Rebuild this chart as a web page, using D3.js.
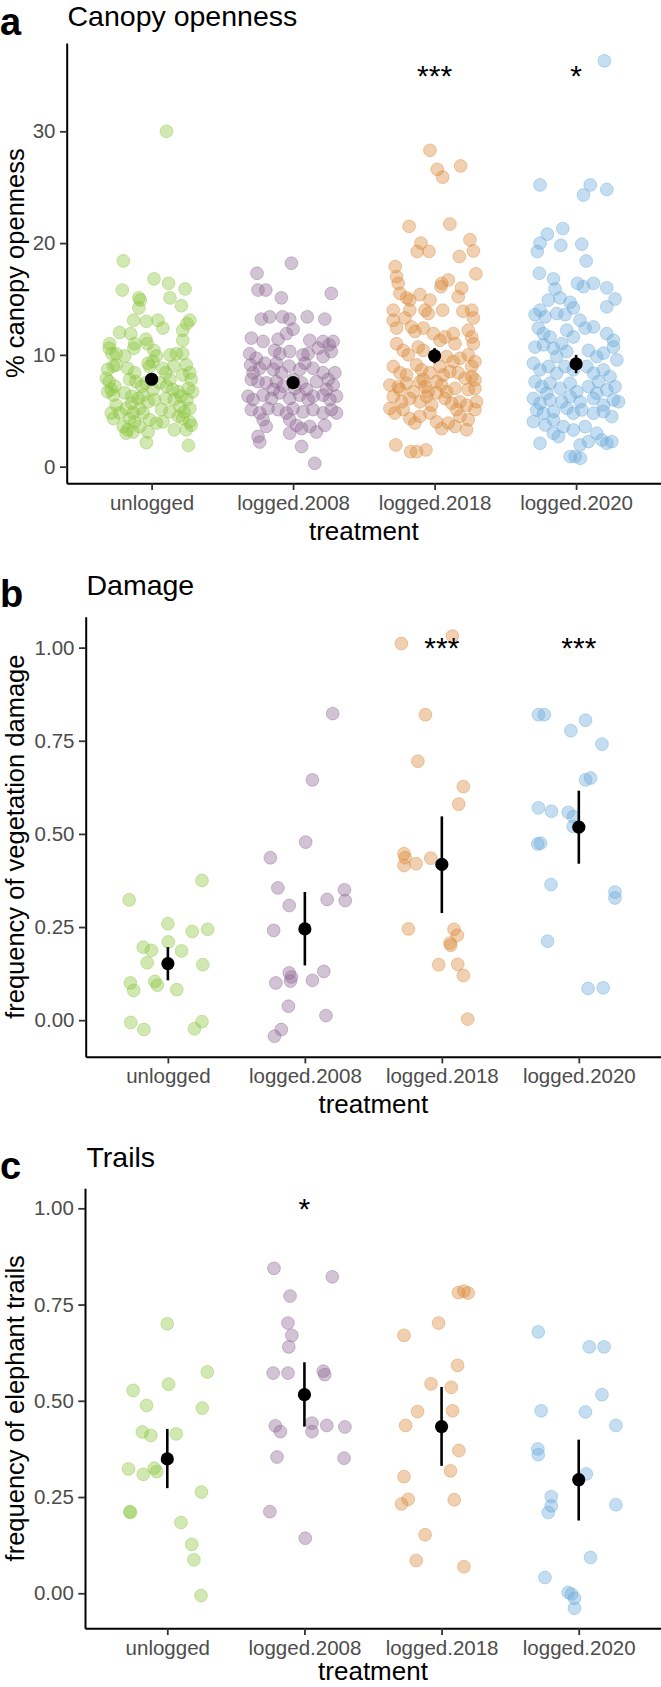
<!DOCTYPE html>
<html><head><meta charset="utf-8">
<script src="https://cdn.jsdelivr.net/npm/d3@7"></script>
<style>body{margin:0;background:#fff} svg{display:block} text{font-family:"Liberation Sans",Arial,Helvetica,sans-serif}</style>
</head><body><svg id="chart" width="661" height="1687"></svg>
<script>
const categories = ["unlogged","logged.2008","logged.2018","logged.2020"];
const colors = ["#8CC63F","#8E6A94","#DA8A3A","#6BAAD9"];

// each point: [horizontal jitter in category units, value]
const canopyUnlogged = [[0.105,30.0],[-0.2,18.4],[0.017,16.8],[0.12,16.4],[-0.207,15.8],[0.237,15.9],[-0.09,15.1],[-0.08,14.9],[-0.09,14.2],[0.13,15.1],[0.21,14.4],[-0.127,13.1],[-0.037,13.0],[0.045,13.1],[0.08,12.4],[0.27,13.1],[0.25,12.8],[-0.226,12.0],[-0.148,11.9],[-0.04,11.4],[-0.03,11.0],[0.22,12.2],[0.22,11.3],[-0.297,11.0],[-0.3,10.6],[-0.28,10.1],[-0.25,10.1],[-0.19,9.9],[-0.12,11.0],[-0.125,10.6],[0.017,10.4],[0.034,9.9],[0.01,9.4],[0.13,10.0],[0.175,10.1],[0.22,10.1],[0.245,9.1],[-0.31,8.7],[-0.27,9.0],[-0.25,9.1],[-0.17,8.8],[-0.12,8.4],[-0.025,9.25],[-0.014,8.96],[0.08,8.8],[0.1,8.4],[0.157,9.0],[0.22,8.2],[0.27,8.4],[0.28,7.8],[-0.32,7.9],[-0.3,7.6],[-0.26,7.2],[-0.155,7.8],[-0.11,7.6],[-0.07,7.2],[0.057,7.5],[0.105,7.2],[0.15,6.9],[0.19,6.7],[0.26,7.0],[0.29,6.7],[-0.31,6.7],[-0.27,6.4],[-0.19,6.6],[-0.14,6.3],[-0.095,6.1],[-0.06,6.4],[-0.025,5.8],[0.02,6.0],[0.1,6.1],[0.16,6.0],[0.21,6.3],[0.25,6.0],[-0.25,5.5],[-0.18,5.2],[-0.14,5.7],[-0.085,5.2],[-0.06,4.8],[0.07,5.1],[0.13,4.9],[0.2,5.4],[0.23,4.9],[0.27,5.2],[-0.285,4.8],[-0.27,4.3],[-0.225,4.8],[-0.155,4.3],[-0.12,4.0],[-0.014,4.2],[0.034,3.9],[0.08,4.0],[0.19,4.5],[0.22,4.3],[0.27,4.0],[0.28,3.7],[-0.2,3.6],[-0.17,3.3],[-0.13,3.1],[-0.025,3.1],[0.16,3.3],[0.245,3.3],[-0.037,2.15],[0.26,1.9],[-0.18,3.0],[-0.085,3.6],[-0.285,6.9],[0.13,7.8],[-0.04,7.5],[0.01,6.9],[-0.13,4.8]];
const canopy2008 = [[-0.012,18.2],[-0.255,17.3],[-0.248,15.8],[-0.193,15.8],[-0.083,15.1],[0.27,15.5],[-0.224,13.2],[-0.165,13.4],[-0.075,13.4],[-0.024,13.2],[0.1,13.4],[0.224,13.2],[-0.295,11.5],[-0.212,11.2],[-0.106,11.4],[-0.047,11.9],[0,12.3],[0.118,11.3],[0.212,11.2],[0.255,10.9],[0.283,11.2],[-0.307,10.1],[-0.26,9.7],[-0.13,10.4],[-0.094,10.1],[-0.024,10.3],[0.07,10.0],[0.106,10.1],[0.177,10.6],[0.212,9.85],[0.27,10.3],[-0.3,9.1],[-0.236,8.8],[-0.2,9.25],[-0.14,8.7],[-0.083,8.4],[-0.028,9.0],[0.047,8.7],[0.083,9.25],[0.14,8.8],[0.212,8.4],[0.248,7.8],[0.295,8.4],[-0.295,7.8],[-0.248,7.6],[-0.19,7.5],[-0.118,7.6],[-0.07,7.2],[0.012,7.0],[0.06,7.5],[0.165,7.6],[0.236,6.9],[0.283,7.3],[-0.318,6.3],[-0.283,6.0],[-0.212,6.4],[-0.153,6.1],[-0.094,6.6],[-0.024,6.1],[0.047,6.4],[0.106,6.0],[0.142,6.3],[0.212,6.4],[0.26,6.0],[0.307,6.3],[-0.295,5.1],[-0.236,4.8],[-0.177,5.2],[-0.106,5.1],[-0.047,4.8],[0,5.2],[0.07,4.9],[0.14,5.1],[0.212,4.8],[0.27,5.1],[0.307,4.8],[-0.212,4.2],[-0.19,3.6],[-0.024,4.2],[0.024,3.7],[0.06,3.4],[0.118,3.6],[0.165,3.1],[0.224,3.7],[-0.248,2.7],[-0.236,2.2],[-0.024,3.0],[0.06,1.8],[0.153,0.3],[-0.14,6.9],[0.094,6.9],[-0.283,8.4],[0,7.8],[-0.118,9.25]];
const canopy2018 = [[-0.033,28.3],[0.019,26.6],[0.057,25.9],[0.184,26.9],[-0.18,21.5],[0.108,21.7],[-0.097,20.0],[-0.123,19.25],[-0.04,19.25],[0.25,20.3],[0.274,19.3],[0.175,18.8],[-0.278,17.9],[-0.269,17.0],[-0.257,16.4],[0.05,16.4],[0.097,16.7],[0.045,16.1],[0.292,17.25],[0.19,15.97],[0.167,15.2],[-0.245,15.5],[-0.198,15.1],[-0.175,14.9],[-0.104,15.4],[-0.033,14.9],[0.057,14.0],[-0.292,14.0],[-0.21,13.3],[-0.175,14.0],[-0.068,14.0],[-0.045,13.7],[0.2,13.9],[0.262,14.0],[0.274,13.3],[-0.292,13.1],[-0.269,12.4],[-0.163,12.5],[-0.139,12.1],[-0.08,12.4],[-0.009,11.9],[0.038,11.3],[0.073,11.6],[0.132,11.9],[0.144,11.0],[0.238,12.2],[0.262,11.6],[0.274,11.0],[-0.269,11.0],[-0.222,10.4],[-0.186,10.0],[-0.116,10.7],[-0.08,10.4],[0.085,9.85],[0.132,9.4],[0.18,9.7],[0.238,10.0],[0.285,9.4],[0.262,8.96],[-0.292,8.96],[-0.245,8.4],[-0.198,8.2],[-0.127,9.1],[-0.092,8.66],[-0.033,8.4],[0.038,8.96],[0.061,8.2],[0.108,8.5],[0.167,8.4],[0.215,7.9],[0.262,8.06],[0.285,7.76],[-0.316,7.3],[-0.257,7.16],[-0.198,7.46],[-0.104,7.6],[-0.068,7.16],[-0.045,6.7],[0.05,7.3],[0.085,6.7],[0.144,7.0],[0.238,6.9],[0.285,7.0],[-0.292,6.27],[-0.233,5.8],[-0.175,6.1],[-0.104,5.8],[-0.057,6.27],[-0.021,5.5],[0.073,6.1],[0.12,5.67],[0.179,5.8],[0.226,5.5],[0.297,5.8],[-0.316,5.2],[-0.281,4.8],[-0.222,5.1],[-0.175,4.3],[-0.139,3.9],[-0.104,4.5],[0.014,4.0],[0.05,3.4],[0.097,3.9],[0.144,3.6],[0.179,4.5],[0.226,3.3],[0.238,4.2],[0.285,5.1],[-0.274,1.94],[-0.17,1.34],[-0.127,1.34],[-0.061,1.5],[-0.08,7.8],[0.014,7.6],[-0.15,6.7],[0.014,6.6],[-0.245,6.9],[-0.033,4.8],[0.156,5.1]];
const canopy2020 = [[0.2,36.3],[-0.255,25.2],[0.1,25.2],[0.052,24.3],[0.217,24.8],[-0.094,21.3],[-0.203,20.8],[-0.108,19.8],[-0.255,20.0],[-0.274,19.25],[0.04,19.9],[0.071,18.4],[-0.26,17.3],[-0.16,16.8],[0.01,16.4],[0.052,16.1],[0.123,16.4],[0.217,16.0],[0.276,15.0],[0.217,14.3],[-0.149,15.9],[-0.113,15.1],[-0.196,14.9],[-0.042,14.7],[-0.019,14.2],[-0.29,13.6],[-0.255,14.0],[-0.219,13.4],[-0.137,13.7],[-0.078,13.6],[0.028,13.1],[0.064,12.4],[-0.267,12.4],[-0.231,11.9],[-0.184,11.6],[-0.066,12.2],[-0.019,11.6],[0.123,12.5],[0.217,11.9],[0.264,11.3],[-0.29,10.7],[-0.231,10.9],[-0.16,10.6],[-0.101,11.0],[-0.066,10.3],[0.087,10.4],[0.146,9.85],[0.193,10.15],[0.264,10.7],[0.288,9.55],[-0.302,9.25],[-0.255,8.66],[-0.196,8.96],[-0.137,8.36],[-0.078,8.96],[0.075,8.96],[0.123,8.36],[0.193,8.66],[0.24,8.06],[-0.29,7.6],[-0.243,7.16],[-0.184,7.46],[-0.113,7.0],[-0.042,7.46],[0.005,6.7],[0.087,7.16],[0.158,7.6],[0.217,6.87],[0.276,7.16],[-0.302,6.1],[-0.255,5.67],[-0.184,5.97],[-0.101,5.8],[-0.042,6.27],[0.028,5.8],[0.123,6.1],[0.193,5.5],[0.264,5.97],[0.3,5.8],[-0.278,5.07],[-0.231,4.78],[-0.16,4.93],[-0.066,5.22],[-0.019,4.78],[0.04,5.07],[0.123,4.78],[0.193,4.93],[0.252,4.48],[-0.302,4.03],[-0.219,3.73],[-0.16,4.18],[-0.09,3.58],[-0.019,3.28],[0.064,3.58],[0.146,2.99],[0.182,2.39],[0.217,2.09],[0.252,2.24],[-0.255,2.09],[-0.042,0.9],[-0.007,0.9],[0.028,1.94],[0.087,2.24],[-0.16,2.99],[-0.125,2.69],[-0.208,6.57],[0.146,6.57],[-0.019,8.66],[-0.137,9.85],[0.03,0.75]];
const canopyMean = [7.82, 7.52, 9.91, 9.19];
const canopyLow  = [7.3, 7.05, 9.25, 8.36];
const canopyHigh = [8.35, 8.0, 10.6, 10.0];
const canopySig  = ["", "", "***", "*"];

const damageUnlogged = [[-0.283,0.323],[0.249,0.375],[0,0.259],[0.003,0.21],[-0.18,0.196],[-0.12,0.1875],[0.10,0.186],[0.178,0.238],[0.29,0.244],[-0.151,0.154],[0.255,0.149],[-0.274,0.10],[-0.25,0.08],[-0.095,0.104],[-0.077,0.094],[0.065,0.082],[-0.271,-0.006],[-0.175,-0.025],[0.194,-0.023],[0.249,-0.004]];
const damage2008 = [[0.203,0.823],[0.055,0.645],[0.006,0.478],[-0.252,0.436],[-0.197,0.355],[-0.114,0.308],[0.289,0.35],[0.295,0.321],[0.163,0.324],[-0.228,0.241],[-0.114,0.127],[-0.098,0.116],[-0.105,0.105],[-0.212,0.10],[0.055,0.107],[0.138,0.131],[-0.12,0.0375],[0.154,0.0125],[-0.172,-0.025],[-0.222,-0.043]];
const damage2018 = [[-0.295,1.011],[0.077,1.031],[-0.12,0.82],[-0.175,0.695],[0.157,0.627],[0.123,0.58],[-0.276,0.447],[-0.268,0.436],[-0.276,0.415],[-0.188,0.42],[-0.081,0.435],[-0.244,0.245],[0.089,0.244],[0.113,0.228],[0.06,0.207],[0.065,0.201],[-0.023,0.149],[0.116,0.15],[0.157,0.12],[0.189,0.003]];
const damage2020 = [[-0.295,0.82],[-0.252,0.82],[0.049,0.805],[-0.058,0.777],[0.169,0.741],[0.049,0.645],[0.086,0.65],[-0.295,0.57],[-0.2,0.561],[-0.077,0.558],[-0.04,0.546],[-0.041,0.52],[-0.30,0.473],[-0.28,0.475],[-0.203,0.364],[-0.228,0.212],[0.264,0.344],[0.264,0.328],[0.068,0.085],[0.178,0.087]];
const damageMean = [0.152, 0.245, 0.418, 0.518];
const damageLow  = [0.107, 0.147, 0.2875, 0.42];
const damageHigh = [0.196, 0.344, 0.547, 0.616];
const damageSig  = ["", "", "***", "***"];

const trailsUnlogged = [[0,0.70],[0.292,0.575],[-0.249,0.527],[0.009,0.543],[-0.151,0.488],[0.255,0.481],[-0.182,0.419],[-0.12,0.41],[0.065,0.414],[-0.283,0.323],[-0.175,0.309],[-0.095,0.325],[-0.077,0.316],[0.249,0.263],[-0.274,0.212],[-0.268,0.21],[0.10,0.184],[0.178,0.127],[0.194,0.087],[0.246,-0.006]];
const trails2008 = [[-0.222,0.844],[0.203,0.822],[-0.105,0.772],[-0.12,0.702],[-0.092,0.67],[-0.114,0.64],[-0.228,0.572],[-0.12,0.572],[0.138,0.577],[0.148,0.568],[-0.212,0.435],[-0.175,0.42],[0.055,0.442],[0.055,0.42],[0.163,0.436],[0.295,0.432],[-0.2,0.354],[0.289,0.351],[-0.252,0.212],[0.006,0.143]];
const trails2018 = [[0.123,0.781],[0.163,0.785],[0.194,0.78],[-0.022,0.702],[-0.274,0.67],[0.117,0.592],[-0.077,0.544],[0.071,0.535],[-0.175,0.472],[0.08,0.474],[-0.262,0.436],[0.126,0.371],[-0.274,0.303],[0.065,0.318],[-0.292,0.232],[-0.243,0.244],[0.092,0.243],[-0.12,0.152],[-0.185,0.085],[0.163,0.069]];
const trails2020 = [[-0.295,0.679],[0.077,0.64],[0.185,0.64],[0.169,0.516],[-0.274,0.474],[0.049,0.471],[0.271,0.436],[-0.298,0.375],[-0.295,0.36],[0.055,0.31],[-0.2,0.251],[-0.2,0.227],[-0.222,0.21],[0.271,0.23],[0.086,0.093],[-0.246,0.041],[-0.077,0.002],[-0.052,-0.002],[-0.031,-0.013],[-0.031,-0.039]];
const trailsMean = [0.349, 0.516, 0.433, 0.295];
const trailsLow  = [0.273, 0.433, 0.331, 0.189];
const trailsHigh = [0.427, 0.600, 0.536, 0.399];
const trailsSig  = ["", "*", "", ""];

const canopyTicks = [0, 10, 20, 30];
const fracTicks = [0, 0.25, 0.5, 0.75, 1];

const svg = d3.select("#chart");

const panels = [
  {letter:"a", title:"Canopy openness", ylab:"% canopy openness",
   groups:[canopyUnlogged, canopy2008, canopy2018, canopy2020],
   mean:canopyMean, lo:canopyLow, hi:canopyHigh, sig:canopySig, sigAt:35,
   ticks:canopyTicks, fmt:d3.format("d"), domain:[-1.49, 37.9],
   left:66.7, top:43, bottom:483.3, letterY:35, titleX:67.5, titleY:26, xTitleY:540},
  {letter:"b", title:"Damage", ylab:"frequency of vegetation damage",
   groups:[damageUnlogged, damage2008, damage2018, damage2020],
   mean:damageMean, lo:damageLow, hi:damageHigh, sig:damageSig, sigAt:1,
   ticks:fracTicks, fmt:d3.format(".2f"), domain:[-0.098, 1.083],
   left:85.7, top:616.7, bottom:1056.7, letterY:607, titleX:86.5, titleY:595, xTitleY:1113},
  {letter:"c", title:"Trails", ylab:"frequency of elephant trails",
   groups:[trailsUnlogged, trails2008, trails2018, trails2020],
   mean:trailsMean, lo:trailsLow, hi:trailsHigh, sig:trailsSig, sigAt:1,
   ticks:fracTicks, fmt:d3.format(".2f"), domain:[-0.091, 1.052],
   left:85, top:1188.3, bottom:1628.3, letterY:1179, titleX:86.5, titleY:1167, xTitleY:1680}
];

panels.forEach(p => {
  const right = 661;
  const g = svg.append("g");
  const x = d3.scalePoint().domain(categories).range([p.left, right]).padding(0.6);
  const step = x.step();
  const y = d3.scaleLinear().domain(p.domain).range([p.bottom, p.top]);

  // jittered points
  p.groups.forEach((pts, i) => {
    g.append("g").selectAll("circle").data(pts).join("circle")
      .attr("cx", d => x(categories[i]) + d[0] * step)
      .attr("cy", d => y(d[1]))
      .attr("r", 6.4)
      .attr("fill", colors[i]).attr("fill-opacity", 0.4)
      .attr("stroke", colors[i]).attr("stroke-opacity", 0.4).attr("stroke-width", 1);
  });

  // error bars
  g.append("g").selectAll("line").data(categories).join("line")
    .attr("x1", c => x(c)).attr("x2", c => x(c))
    .attr("y1", (c, i) => y(p.lo[i])).attr("y2", (c, i) => y(p.hi[i]))
    .attr("stroke", "#000").attr("stroke-width", 2.6);
  // means
  g.append("g").selectAll("circle").data(categories).join("circle")
    .attr("cx", c => x(c)).attr("cy", (c, i) => y(p.mean[i]))
    .attr("r", 6.6).attr("fill", "#000");

  // significance stars
  g.append("g").selectAll("text").data(categories).join("text")
    .attr("x", c => x(c)).attr("y", () => y(p.sigAt) + 10.4)
    .attr("text-anchor", "middle").attr("font-size", 30).attr("fill", "#000")
    .text((c, i) => p.sig[i]);

  // axes
  const yAx = g.append("g").attr("transform", `translate(${p.left},0)`)
    .call(d3.axisLeft(y).tickValues(p.ticks).tickFormat(p.fmt).tickSize(6.7).tickSizeOuter(0).tickPadding(4.5));
  const xAx = g.append("g").attr("transform", `translate(0,${p.bottom})`)
    .call(d3.axisBottom(x).tickSize(6.7).tickSizeOuter(0).tickPadding(5));
  [yAx, xAx].forEach(a => {
    a.attr("font-family", null).attr("font-size", null);
    a.select(".domain").attr("stroke", "#000").attr("stroke-width", 2);
    a.selectAll(".tick line").attr("stroke", "#333").attr("stroke-width", 1.8);
    a.selectAll(".tick text").attr("fill", "#4D4D4D").attr("font-size", 20.5);
  });

  // axis titles
  g.append("text").attr("x", (p.left + right) / 2).attr("y", p.xTitleY)
    .attr("text-anchor", "middle").attr("font-size", 26).attr("fill", "#000").text("treatment");
  g.append("text").attr("transform", `translate(23.5,${(p.top + p.bottom) / 2}) rotate(-90)`)
    .attr("text-anchor", "middle").attr("font-size", 25.5).attr("fill", "#000").text(p.ylab);

  // panel title and letter
  g.append("text").attr("x", p.titleX).attr("y", p.titleY)
    .attr("font-size", 28.5).attr("fill", "#000").text(p.title);
  g.append("text").attr("x", 0).attr("y", p.letterY)
    .attr("font-size", 38).attr("font-weight", "bold").attr("fill", "#000").text(p.letter);
});
</script>
</body></html>
